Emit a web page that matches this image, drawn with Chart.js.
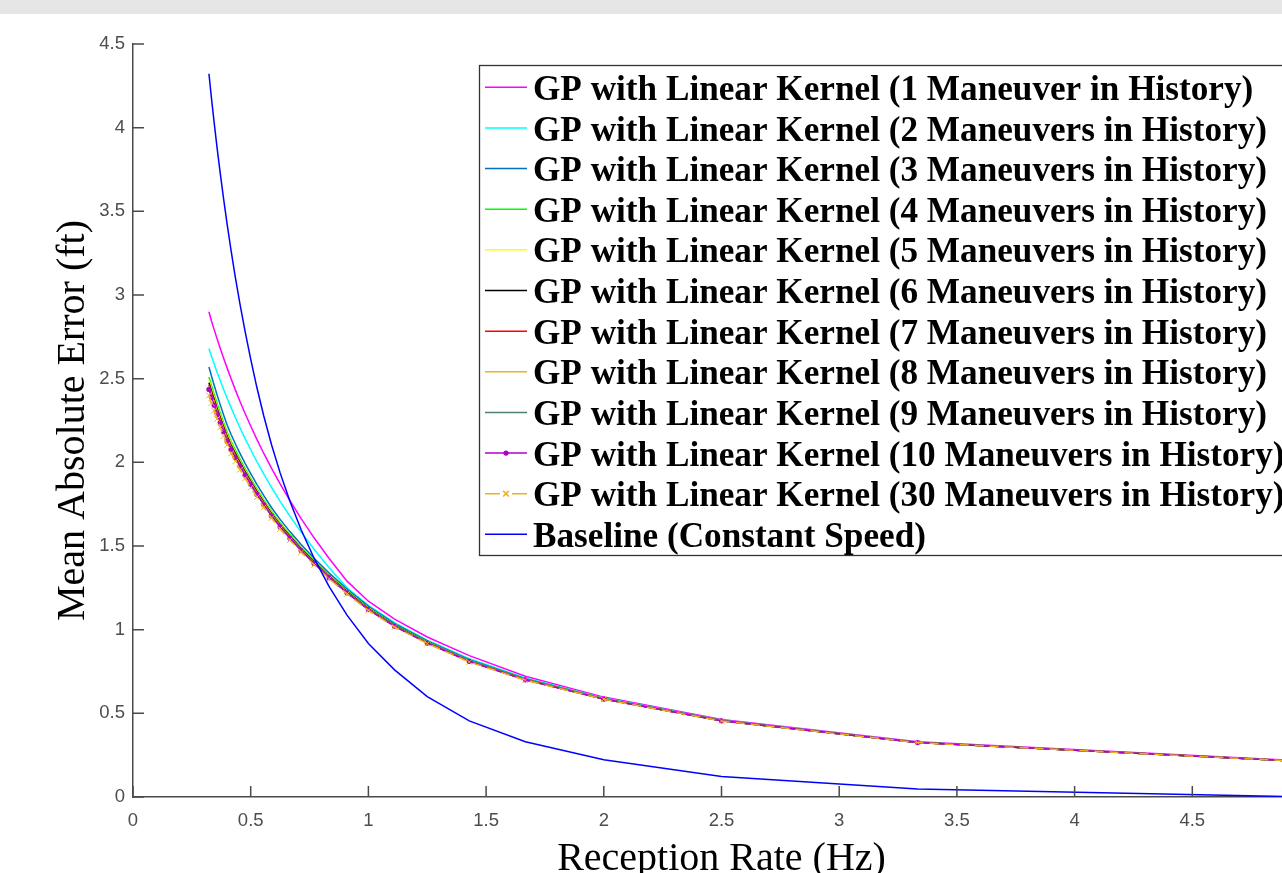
<!DOCTYPE html>
<html>
<head>
<meta charset="utf-8">
<title>Mean Absolute Error vs Reception Rate</title>
<script src="https://cdn.jsdelivr.net/npm/chart.js@4.4.1/dist/chart.umd.min.js"></script>
<style>
  html, body { margin: 0; padding: 0; background: #fff; overflow: hidden; width: 1282px; height: 873px; }
  #band { height: 14px; background: #e6e6e6; }
  #wrap { position: absolute; left: 0; top: 14px; }
</style>
</head>
<body>
<div id="band"></div>
<div id="wrap"><canvas id="maeChart" width="1340" height="900"></canvas></div>
<script>
// reception rate (Hz) - same for every curve
const rateHz = [0.3226, 0.3333, 0.3448, 0.3571, 0.3704, 0.3846, 0.4, 0.4167, 0.4348, 0.4545,
                0.4762, 0.5, 0.5263, 0.5556, 0.5882, 0.625, 0.6667, 0.7143, 0.7692, 0.8333,
                0.9091, 1.0, 1.1111, 1.25, 1.4286, 1.6667, 2.0, 2.5, 3.3333, 5.0];

// mean absolute error (ft) per history length
const mae1  = [2.90, 2.845, 2.793, 2.738, 2.682, 2.623, 2.563, 2.499, 2.433, 2.364, 2.292, 2.217, 2.137, 2.053, 1.965,
               1.871, 1.771, 1.664, 1.549, 1.425, 1.29, 1.17, 1.063, 0.956, 0.845, 0.722, 0.597, 0.463, 0.33, 0.213];
const mae2  = [2.68, 2.635, 2.588, 2.539, 2.489, 2.437, 2.383, 2.327, 2.268, 2.207, 2.142, 2.075, 2.004, 1.93, 1.851,
               1.767, 1.678, 1.583, 1.481, 1.37, 1.25, 1.145, 1.042, 0.937, 0.826, 0.712, 0.591, 0.459, 0.327, 0.211];
const mae3  = [2.57, 2.516, 2.461, 2.404, 2.345, 2.285, 2.223, 2.166, 2.111, 2.054, 1.994, 1.933, 1.868, 1.801, 1.73,
               1.659, 1.586, 1.509, 1.427, 1.338, 1.243, 1.139, 1.036, 0.933, 0.82, 0.707, 0.589, 0.457, 0.326, 0.21];
const mae4  = [2.51, 2.459, 2.407, 2.353, 2.297, 2.24, 2.18, 2.126, 2.074, 2.019, 1.962, 1.903, 1.841, 1.776, 1.708,
               1.639, 1.568, 1.493, 1.413, 1.326, 1.233, 1.131, 1.029, 0.927, 0.815, 0.704, 0.587, 0.456, 0.325, 0.21];
const mae5  = [2.49, 2.44, 2.389, 2.336, 2.281, 2.225, 2.166, 2.113, 2.061, 2.008, 1.952, 1.893, 1.832, 1.768, 1.70,
               1.632, 1.562, 1.487, 1.409, 1.322, 1.229, 1.128, 1.026, 0.925, 0.814, 0.703, 0.587, 0.456, 0.325, 0.21];
const mae6  = [2.476, 2.427, 2.377, 2.324, 2.27, 2.214, 2.156, 2.103, 2.053, 2.0, 1.944, 1.887, 1.826, 1.762, 1.695,
               1.627, 1.558, 1.484, 1.405, 1.319, 1.227, 1.126, 1.025, 0.924, 0.813, 0.702, 0.586, 0.456, 0.325, 0.21];
const mae7  = [2.464, 2.416, 2.366, 2.314, 2.26, 2.205, 2.148, 2.096, 2.045, 1.993, 1.938, 1.881, 1.821, 1.757, 1.69,
               1.623, 1.554, 1.48, 1.403, 1.317, 1.225, 1.124, 1.023, 0.923, 0.812, 0.701, 0.586, 0.456, 0.325, 0.21];
const mae8  = [2.454, 2.406, 2.357, 2.305, 2.252, 2.198, 2.141, 2.089, 2.039, 1.987, 1.933, 1.876, 1.816, 1.753, 1.687,
               1.62, 1.551, 1.478, 1.40, 1.315, 1.223, 1.123, 1.022, 0.922, 0.811, 0.701, 0.586, 0.455, 0.325, 0.21];
const mae9  = [2.445, 2.398, 2.349, 2.298, 2.245, 2.191, 2.134, 2.083, 2.034, 1.982, 1.928, 1.871, 1.812, 1.75, 1.683,
               1.617, 1.549, 1.475, 1.398, 1.313, 1.222, 1.121, 1.021, 0.921, 0.811, 0.70, 0.585, 0.455, 0.325, 0.21];
const mae10 = [2.436, 2.389, 2.341, 2.29, 2.238, 2.184, 2.128, 2.077, 2.028, 1.977, 1.923, 1.867, 1.808, 1.746, 1.68,
               1.614, 1.546, 1.473, 1.396, 1.311, 1.22, 1.12, 1.02, 0.92, 0.81, 0.70, 0.585, 0.455, 0.325, 0.21];
const mae30 = [2.40, 2.355, 2.309, 2.259, 2.209, 2.157, 2.103, 2.053, 2.006, 1.956, 1.904, 1.849, 1.792, 1.731, 1.667,
               1.602, 1.535, 1.463, 1.388, 1.304, 1.214, 1.115, 1.016, 0.917, 0.807, 0.698, 0.584, 0.454, 0.325, 0.21];
const maeBaseline = [4.322, 4.177, 4.03, 3.881, 3.73, 3.577, 3.422, 3.265, 3.106, 2.945, 2.782, 2.617, 2.447, 2.277, 2.107,
                     1.937, 1.767, 1.597, 1.427, 1.257, 1.087, 0.917, 0.76, 0.60, 0.455, 0.33, 0.222, 0.122, 0.048, 0.0];

const seriesLabels = [
    'GP with Linear Kernel (1 Maneuver in History)',
    'GP with Linear Kernel (2 Maneuvers in History)',
    'GP with Linear Kernel (3 Maneuvers in History)',
    'GP with Linear Kernel (4 Maneuvers in History)',
    'GP with Linear Kernel (5 Maneuvers in History)',
    'GP with Linear Kernel (6 Maneuvers in History)',
    'GP with Linear Kernel (7 Maneuvers in History)',
    'GP with Linear Kernel (8 Maneuvers in History)',
    'GP with Linear Kernel (9 Maneuvers in History)',
    'GP with Linear Kernel (10 Maneuvers in History)',
    'GP with Linear Kernel (30 Maneuvers in History)',
    'Baseline (Constant Speed)'
];
const seriesValues = [mae1, mae2, mae3, mae4, mae5, mae6, mae7, mae8, mae9, mae10, mae30, maeBaseline];

// styling
const seriesColors = ['#ff00ff', '#00ffff', '#0072bd', '#00ff00', '#ffff00', '#000000',
                      '#ff0000', '#edb120', '#4f7f6f', '#b000c8', '#edb120', '#0000ff'];
const axisColor = '#4a4a4a';
const tickColor = '#4d4d4d';
const serifFamily = '"Liberation Serif", "Times New Roman", serif';

function buildDatasets() {
    return seriesValues.map((vals, i) => {
        const ds = {
            label: seriesLabels[i],
            data: vals.map((v, k) => ({ x: rateHz[k], y: v })),
            borderColor: seriesColors[i],
            backgroundColor: seriesColors[i],
            borderWidth: 1.5,
            pointRadius: 0,
            tension: 0,
            fill: false,
            order: -i  // later series on top, like the original plot
        };
        if (i === 9) { // 10 maneuvers: dot markers
            ds.pointStyle = 'circle';
            ds.pointRadius = 2.6;
            ds.pointBorderWidth = 0;
            ds.pointBackgroundColor = seriesColors[i];
        }
        if (i === 10) { // 30 maneuvers: dashed with x markers
            ds.borderDash = [9, 6];
            ds.pointStyle = 'crossRot';
            ds.pointRadius = 4;
            ds.pointBorderWidth = 1;
            ds.pointBorderColor = seriesColors[i];
        }
        return ds;
    });
}

// ticks pointing inside the axes (MATLAB style)
const inwardTicks = {
    id: 'inwardTicks',
    afterDatasetsDraw(chart) {
        const { ctx, chartArea, scales } = chart;
        const len = 11;
        ctx.save();
        ctx.strokeStyle = axisColor;
        ctx.lineWidth = 1.5;
        ctx.beginPath();
        scales.x.ticks.forEach(t => {
            const px = scales.x.getPixelForValue(t.value);
            ctx.moveTo(px, chartArea.bottom);
            ctx.lineTo(px, chartArea.bottom - len);
        });
        scales.y.ticks.forEach(t => {
            const py = scales.y.getPixelForValue(t.value);
            ctx.moveTo(chartArea.left, py);
            ctx.lineTo(chartArea.left + len, py);
        });
        ctx.stroke();
        ctx.restore();
    }
};

// boxed legend inside the axes
const boxLegend = {
    id: 'boxLegend',
    afterDraw(chart) {
        const ctx = chart.ctx;
        const left = 479.5, top = 51.5, bottom = 541.5, right = 1300;
        const rowTop = 76.8, rowStep = 40.64;
        ctx.save();
        ctx.fillStyle = '#ffffff';
        ctx.fillRect(left, top, right - left, bottom - top);
        ctx.strokeStyle = '#333333';
        ctx.lineWidth = 1.3;
        ctx.strokeRect(left, top, right - left, bottom - top);

        chart.data.datasets.forEach((ds, i) => {
            const cy = rowTop + i * rowStep;
            const ly = cy - 3.5;
            ctx.strokeStyle = ds.borderColor;
            ctx.lineWidth = ds.borderWidth;
            ctx.setLineDash(ds.borderDash ? [15, 12] : []);
            ctx.beginPath();
            ctx.moveTo(485, ly);
            ctx.lineTo(527, ly);
            ctx.stroke();
            ctx.setLineDash([]);
            if (ds.pointStyle) {
                ctx.fillStyle = ds.borderColor;
                ctx.strokeStyle = ds.borderColor;
                Chart.helpers.drawPoint(ctx, {
                    pointStyle: ds.pointStyle,
                    radius: ds.pointRadius,
                    borderWidth: ds.pointBorderWidth || 0,
                    rotation: 0
                }, 506, ly);
            }
            ctx.fillStyle = '#000000';
            ctx.font = 'bold 35.2px ' + serifFamily;
            ctx.textBaseline = 'middle';
            ctx.textAlign = 'left';
            ctx.fillText(ds.label, 533, cy);
        });
        ctx.restore();
    }
};

Chart.defaults.font.family = '"Liberation Sans", Arial, sans-serif';

new Chart(document.getElementById('maeChart').getContext('2d'), {
    type: 'line',
    data: { datasets: buildDatasets() },
    options: {
        responsive: false,
        animation: false,
        layout: { padding: { top: 30, right: 30, left: 0, bottom: 0 } },
        plugins: {
            legend: { display: false },
            tooltip: { enabled: false }
        },
        scales: {
            x: {
                type: 'linear',
                min: 0,
                max: 5,
                grid: { display: false, drawTicks: false },
                border: { display: true, color: axisColor, width: 1.5 },
                ticks: {
                    stepSize: 0.5,
                    autoSkip: false,
                    maxRotation: 0,
                    padding: 13,
                    color: tickColor,
                    font: { size: 18.5 },
                    callback: v => String(v)
                },
                title: {
                    display: true,
                    text: 'Reception Rate (Hz)',
                    color: '#000000',
                    font: { family: serifFamily, size: 40 },
                    padding: { top: 0, bottom: 31 }
                },
                afterFit(scale) { scale.height = 117; }
            },
            y: {
                min: 0,
                max: 4.5,
                grid: { display: false, drawTicks: false },
                border: { display: true, color: axisColor, width: 1.5 },
                ticks: {
                    stepSize: 0.5,
                    padding: 8,
                    color: tickColor,
                    font: { size: 18.5 },
                    callback: v => String(v)
                },
                title: {
                    display: true,
                    text: 'Mean Absolute Error (ft)',
                    color: '#000000',
                    font: { family: serifFamily, size: 40 },
                    padding: { top: 49, bottom: 0 }
                },
                afterFit(scale) { scale.width = 133; }
            }
        }
    },
    plugins: [inwardTicks, boxLegend]
});
</script>
</body>
</html>
